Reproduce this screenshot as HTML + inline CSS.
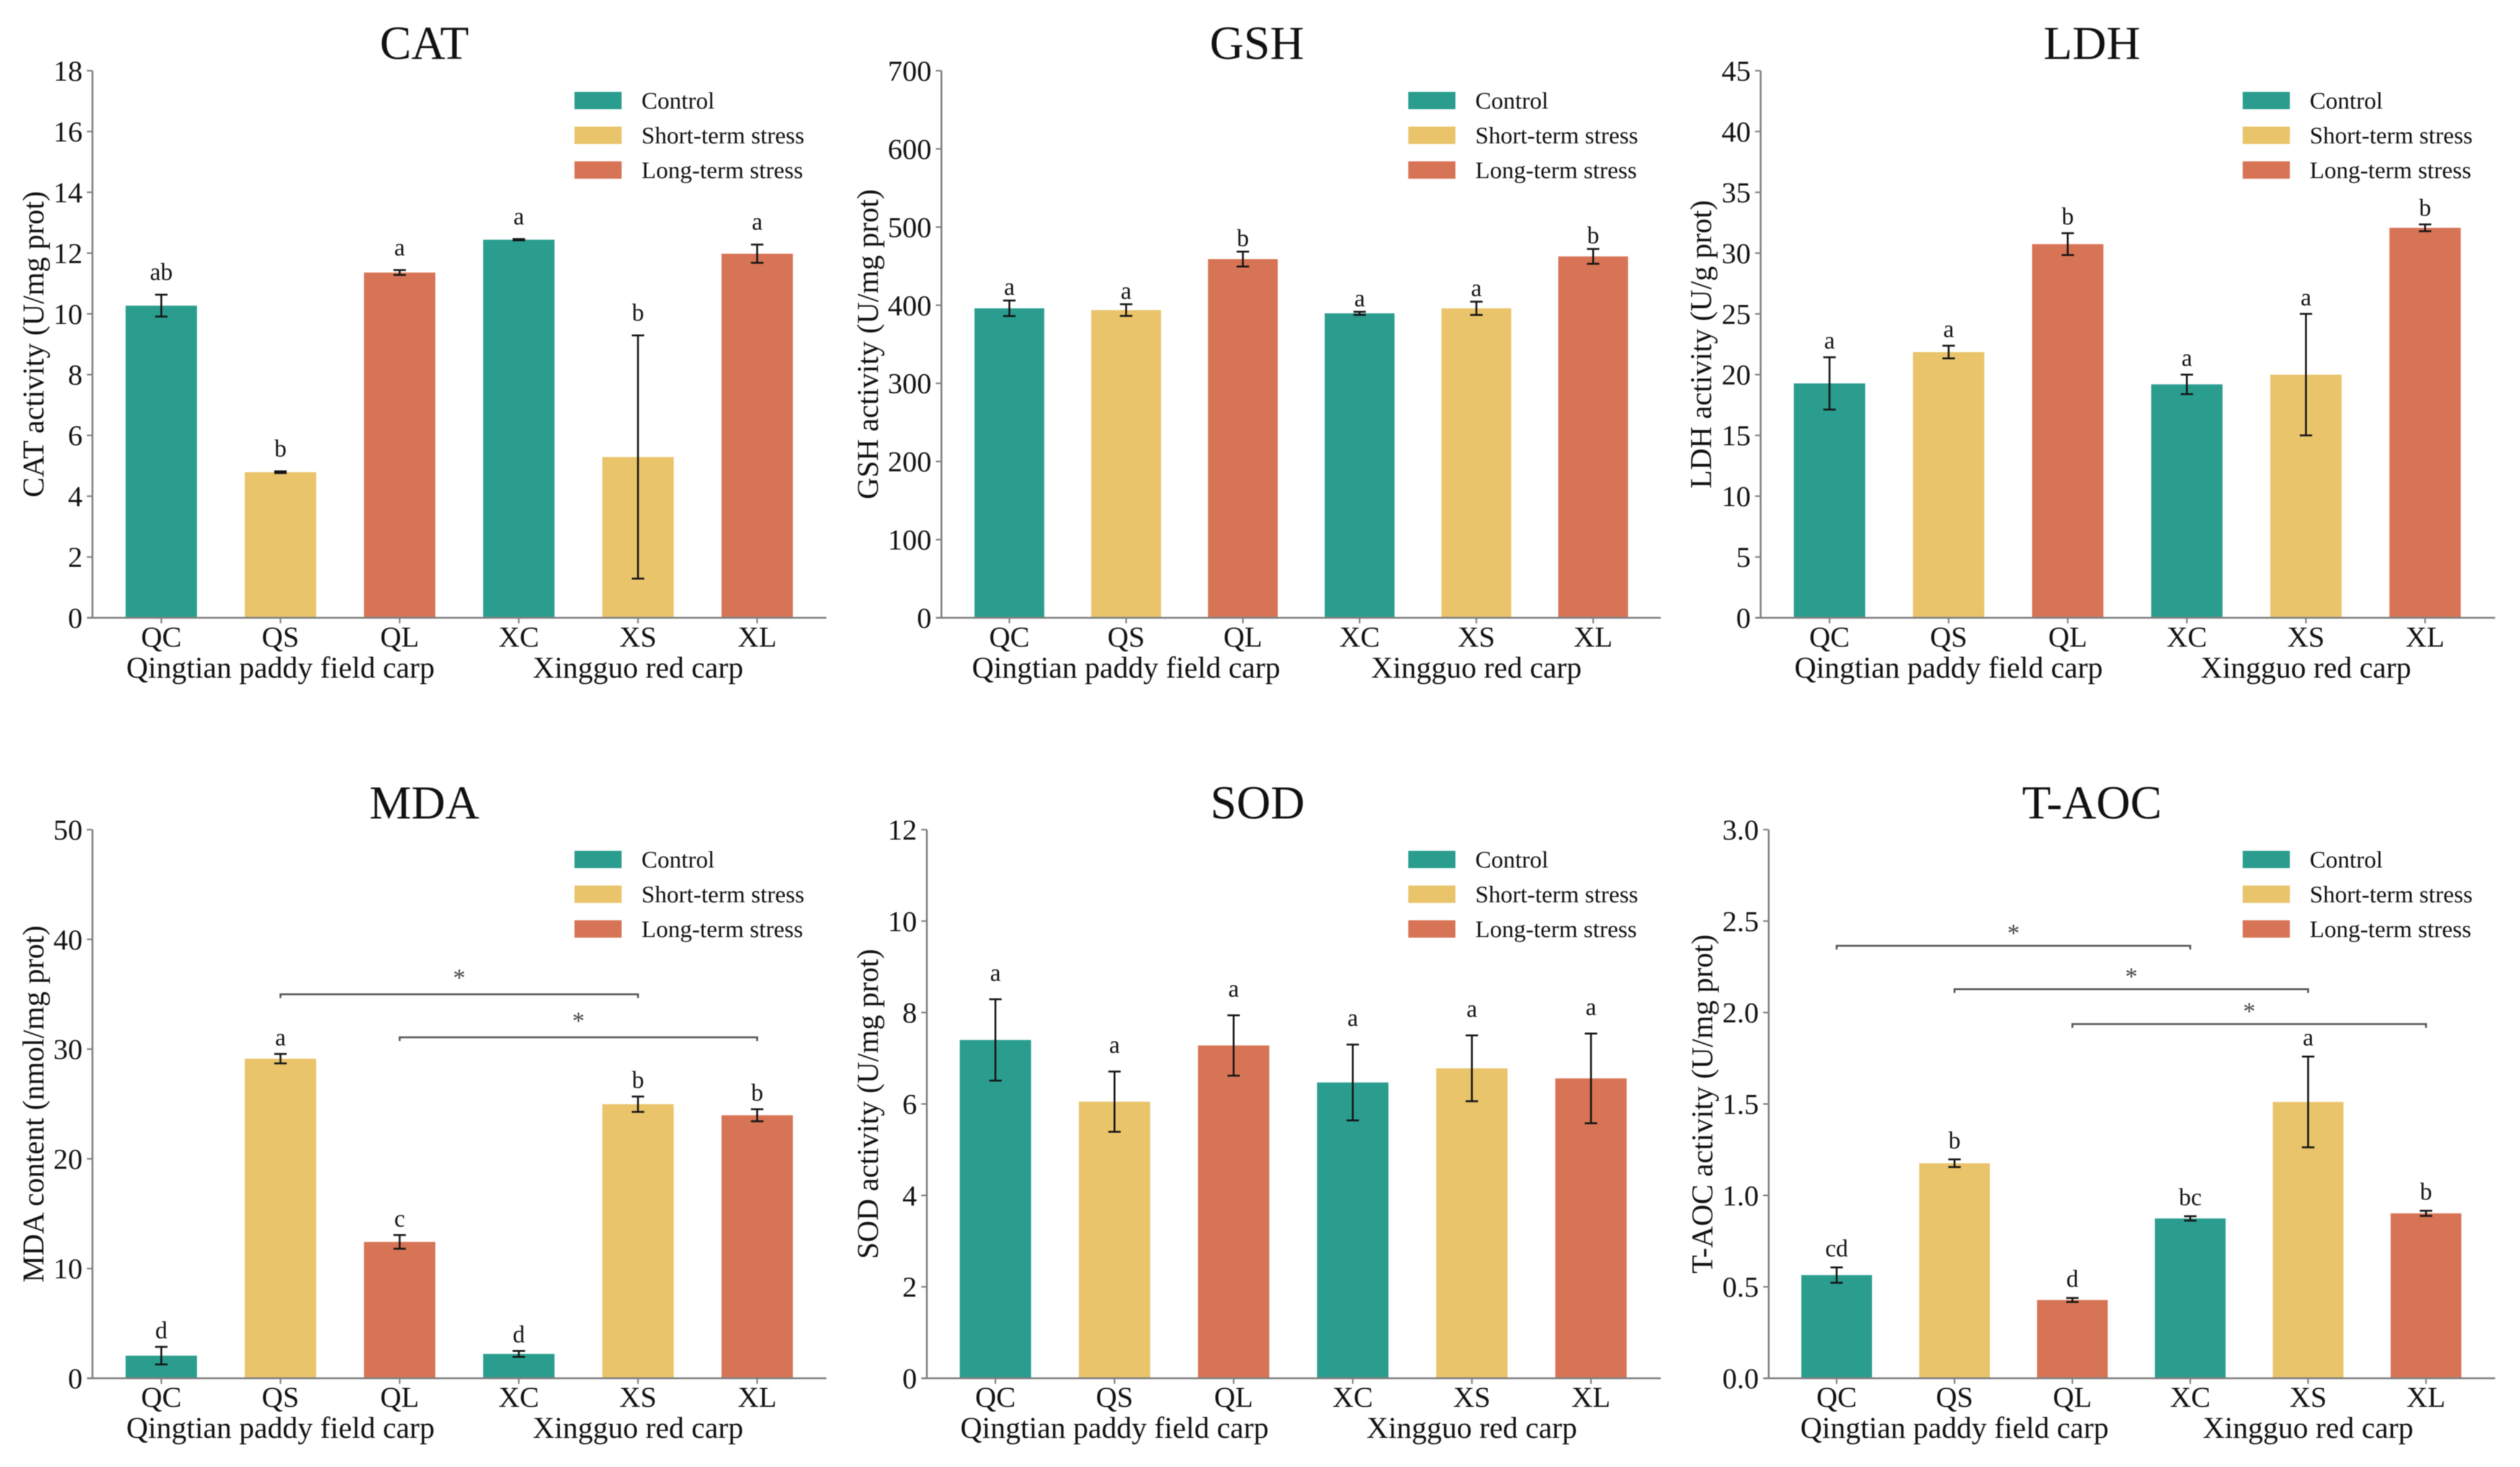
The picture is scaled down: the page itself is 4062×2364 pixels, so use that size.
<!DOCTYPE html>
<html lang="en">
<head>
<meta charset="utf-8">
<title>Biochemical indicators of carp under stress</title>
<style>
html,body{margin:0;padding:0;background:#fff;width:4062px;height:2364px;overflow:hidden}
svg{display:block;filter:blur(0.8px)}
text{font-family:"Liberation Serif","Times New Roman",serif;fill:#111}
</style>
</head>
<body>
<svg id="figure" xmlns="http://www.w3.org/2000/svg" width="4062" height="2364" viewBox="0 0 4062 2364"></svg>
<script>
const categories = ['QC','QS','QL','XC','XS','XL'];
const groupNames = ['Qingtian paddy field carp','Xingguo red carp'];
const legendLabels = ['Control','Short-term stress','Long-term stress'];

const catValues = [10.27,4.79,11.36,12.44,5.29,11.98];
const catErrors = [0.36,0.03,0.08,0.02,4.0,0.3];
const catLetters = ['ab','b','a','a','b','a'];
const catTicks = ['0','2','4','6','8','10','12','14','16','18'];

const gshValues = [396,393.7,459,389.6,396,462.4];
const gshErrors = [10,7.5,9.5,2,8.5,9.5];
const gshLetters = ['a','a','b','a','a','b'];
const gshTicks = ['0','100','200','300','400','500','600','700'];

const ldhValues = [19.28,21.86,30.74,19.2,20,32.08];
const ldhErrors = [2.15,0.52,0.9,0.8,5,0.28];
const ldhLetters = ['a','a','b','a','a','b'];
const ldhTicks = ['0','5','10','15','20','25','30','35','40','45'];

const mdaValues = [2.06,29.13,12.43,2.22,24.98,23.97];
const mdaErrors = [0.8,0.43,0.62,0.27,0.7,0.55];
const mdaLetters = ['d','a','c','d','b','b'];
const mdaTicks = ['0','10','20','30','40','50'];
const mdaBracketFrom = [1,2];
const mdaBracketTo = [4,5];
const mdaBracketLevel = [35.0,31.07];

const sodValues = [7.4,6.05,7.28,6.47,6.78,6.56];
const sodErrors = [0.89,0.66,0.66,0.83,0.72,0.98];
const sodLetters = ['a','a','a','a','a','a'];
const sodTicks = ['0','2','4','6','8','10','12'];

const taocValues = [0.564,1.176,0.428,0.874,1.511,0.902];
const taocErrors = [0.042,0.021,0.011,0.012,0.248,0.014];
const taocLetters = ['cd','b','d','bc','a','b'];
const taocTicks = ['0.0','0.5','1.0','1.5','2.0','2.5','3.0'];
const taocBracketFrom = [0,1,2];
const taocBracketTo = [3,4,5];
const taocBracketLevel = [2.365,2.128,1.937];

const barColors = ['#2A9D8F','#E9C46B','#D87456'];
const TOP_ROW = {top:114,bottom:995.5,titleY:95,tickY:1042,groupY:1092};
const BOTTOM_ROW = {top:1337,bottom:2221,titleY:1319,tickY:2267,groupY:2317};

const charts = [
 {id:'cat',title:'CAT',yTitle:'CAT activity (U/mg prot)',values:catValues,errors:catErrors,letters:catLetters,ticks:catTicks,row:TOP_ROW,
  x0:149,x1:1332,first:260,step:192.1,barW:115,titleX:684,yTitleX:70,legendX:926,letterGap:35},
 {id:'gsh',title:'GSH',yTitle:'GSH activity (U/mg prot)',values:gshValues,errors:gshErrors,letters:gshLetters,ticks:gshTicks,row:TOP_ROW,
  x0:1517.5,x1:2677,first:1627,step:188.2,barW:112.5,titleX:2026,yTitleX:1415,legendX:2270,letterGap:20},
 {id:'ldh',title:'LDH',yTitle:'LDH activity (U/g prot)',values:ldhValues,errors:ldhErrors,letters:ldhLetters,ticks:ldhTicks,row:TOP_ROW,
  x0:2838,x1:4022,first:2949,step:192,barW:115,titleX:3372,yTitleX:2758,legendX:3615,letterGap:25},
 {id:'mda',title:'MDA',yTitle:'MDA content (nmol/mg prot)',values:mdaValues,errors:mdaErrors,letters:mdaLetters,ticks:mdaTicks,row:BOTTOM_ROW,
  x0:149,x1:1332,first:260,step:192.1,barW:115,titleX:684,yTitleX:70,legendX:926,letterGap:25,
  bracketFrom:mdaBracketFrom,bracketTo:mdaBracketTo,bracketLevel:mdaBracketLevel,starGap:33},
 {id:'sod',title:'SOD',yTitle:'SOD activity (U/mg prot)',values:sodValues,errors:sodErrors,letters:sodLetters,ticks:sodTicks,row:BOTTOM_ROW,
  x0:1494,x1:2677,first:1604.5,step:192,barW:115,titleX:2027,yTitleX:1415,legendX:2270,letterGap:41},
 {id:'taoc',title:'T-AOC',yTitle:'T-AOC activity (U/mg prot)',values:taocValues,errors:taocErrors,letters:taocLetters,ticks:taocTicks,row:BOTTOM_ROW,
  x0:2851,x1:4022,first:2960.5,step:190,barW:114,titleX:3372,yTitleX:2760,legendX:3615,letterGap:29,
  bracketFrom:taocBracketFrom,bracketTo:taocBracketTo,bracketLevel:taocBracketLevel,starGap:27}
];

const SVG_NS = 'http://www.w3.org/2000/svg';
const figure = document.getElementById('figure');

function mk(parent, tag, attrs, text) {
  const node = document.createElementNS(SVG_NS, tag);
  for (const key in attrs) node.setAttribute(key, attrs[key]);
  if (text !== undefined) node.textContent = text;
  parent.appendChild(node);
  return node;
}

charts.forEach(function (c) {
  const row = c.row;
  const yMax = parseFloat(c.ticks[c.ticks.length - 1]);
  const yScale = function (v) { return row.bottom - (v / yMax) * (row.bottom - row.top); };
  const xScale = function (i) { return c.first + i * c.step; };

  const panel = mk(figure, 'g', {});
  
  

  const title = mk(panel, 'text', {x: c.titleX, y: row.titleY, 'text-anchor': 'middle', 'font-size': 76}, c.title);
  
  

  const yCenter = (row.top + row.bottom) / 2;
  const yTitle = mk(panel, 'text', {x: c.yTitleX, y: yCenter, 'text-anchor': 'middle', 'font-size': 48.5,
    transform: 'rotate(-90 ' + c.yTitleX + ' ' + yCenter + ')'}, c.yTitle);
  
  

  c.values.forEach(function (v, i) {
    const top = yScale(v);
    const bar = mk(panel, 'rect', {x: xScale(i) - c.barW / 2, y: top, width: c.barW, height: row.bottom - top, fill: barColors[i % 3]});
    
    
  });

  c.values.forEach(function (v, i) {
    const cx = xScale(i);
    const hi = yScale(v + c.errors[i]);
    const lo = yScale(v - c.errors[i]);
    const err = mk(panel, 'path', {d: 'M' + cx + ' ' + hi + 'V' + lo + 'M' + (cx - 10) + ' ' + hi + 'H' + (cx + 10) + 'M' + (cx - 10) + ' ' + lo + 'H' + (cx + 10),
      fill: 'none', stroke: '#151515', 'stroke-width': 3});
    
    

    const label = c.letters[i];
    const letter = mk(panel, 'text', {x: cx, y: hi - c.letterGap + 11, 'text-anchor': 'middle', 'font-size': 39}, label);
    
    
  });

  const yAxis = mk(panel, 'line', {x1: c.x0, x2: c.x0, y1: row.top, y2: row.bottom, stroke: '#808080', 'stroke-width': 3});
  
  

  const xAxis = mk(panel, 'line', {x1: c.x0 - 8, x2: c.x1, y1: row.bottom, y2: row.bottom, stroke: '#808080', 'stroke-width': 3});
  
  

  c.ticks.forEach(function (t) {
    const py = yScale(parseFloat(t));
    const mark = mk(panel, 'line', {x1: c.x0 - 9, x2: c.x0, y1: py, y2: py, stroke: '#808080', 'stroke-width': 2.5});
    
    
    const tl = mk(panel, 'text', {x: c.x0 - 16, y: py + 16, 'text-anchor': 'end', 'font-size': 47}, t);
    
    
  });

  categories.forEach(function (name, i) {
    const px = xScale(i);
    const mark = mk(panel, 'line', {x1: px, x2: px, y1: row.bottom, y2: row.bottom + 9, stroke: '#808080', 'stroke-width': 2.5});
    
    
    const tl = mk(panel, 'text', {x: px, y: row.tickY, 'text-anchor': 'middle', 'font-size': 47}, name);
    
    
  });

  groupNames.forEach(function (name, g) {
    const gl = mk(panel, 'text', {x: xScale(1 + g * 3), y: row.groupY, 'text-anchor': 'middle', 'font-size': 48.5}, name);
    
    
  });

  const legend = mk(panel, 'g', {});
  
  
  legendLabels.forEach(function (name, i) {
    const ly = row.top + 34 + i * 56;
    const sw = mk(legend, 'rect', {x: c.legendX, y: ly, width: 76, height: 28, fill: barColors[i]});
    
    
    const lt = mk(legend, 'text', {x: c.legendX + 108, y: ly + 27, 'font-size': 38.6}, name);
    
    
  });

  if (c.bracketLevel) {
    c.bracketLevel.forEach(function (level, b) {
      const xa = xScale(c.bracketFrom[b]);
      const xb = xScale(c.bracketTo[b]);
      const by = yScale(level);
      const br = mk(panel, 'path', {d: 'M' + xa + ' ' + (by + 6) + 'V' + by + 'H' + xb + 'V' + (by + 6), fill: 'none', stroke: '#555', 'stroke-width': 3});
      
      
      const star = mk(panel, 'text', {x: (xa + xb) / 2, y: by - c.starGap + 20, 'text-anchor': 'middle', 'font-size': 40, style: 'fill:#444'}, '*');
      
      
    });
  }
});
</script>
</body>
</html>
